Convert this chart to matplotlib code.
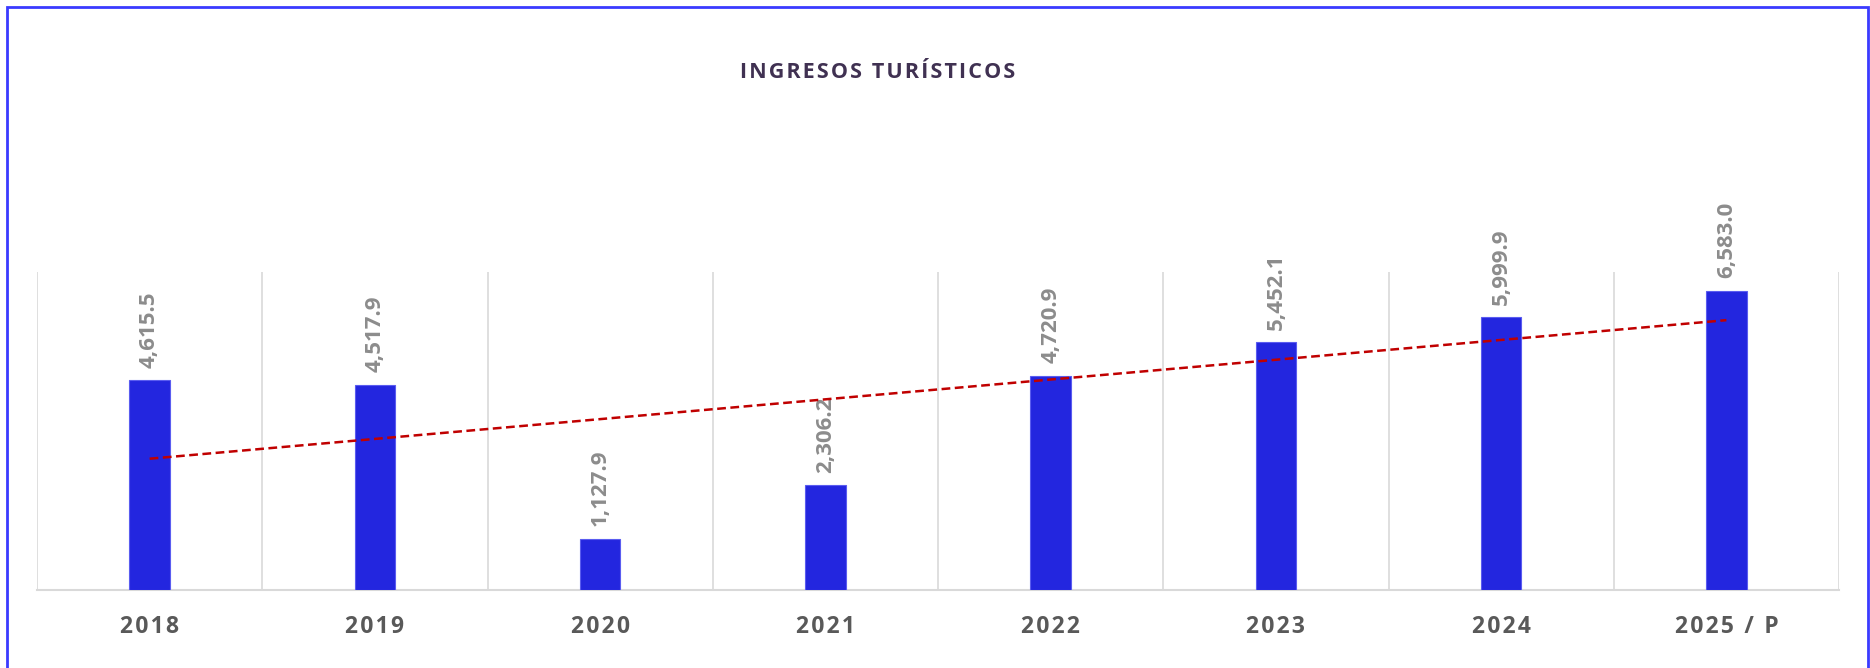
import matplotlib
matplotlib.use("Agg")
import matplotlib.pyplot as plt
from matplotlib.patches import Rectangle

# data
years = ["2018", "2019", "2020", "2021", "2022", "2023", "2024", "2025 / P"]
ingresos = [4615.5, 4517.9, 1127.9, 2306.2, 4720.9, 5452.1, 5999.9, 6583.0]
# linear trendline, start / end values
trend_vals = [2890, 5940]

plt.rcParams['font.family'] = ['Open Sans', 'DejaVu Sans']


def spaced(s):
    # excel-style letter spacing
    return "\u200a".join(s)


fig = plt.figure(figsize=(18.7, 6.68), dpi=100)
ax = fig.add_axes([37/1870, 1 - 590/668, (1839 - 37)/1870, (590 - 272)/668])

x = list(range(len(years)))
ax.bar(x, ingresos, width=0.18, color="#2326df", edgecolor="#5a5cf0", linewidth=0.8, zorder=3)

for xi, v in zip(x, ingresos):
    ax.annotate(f"{v:,.1f}", (xi, v), xytext=(0, 9), textcoords="offset points",
                rotation=90, ha="center", va="bottom", fontsize=16, color="#8c8c8c",
                fontweight="bold")

ax.plot([x[0], x[-1]], trend_vals, color="#c00000", linestyle=(0, (3.5, 1.8)),
        linewidth=1.8, zorder=4)

ax.set_xlim(-0.5, len(years) - 0.5)
ax.set_ylim(0, 7000)
for b in range(len(years) + 1):
    ax.axvline(b - 0.5, color="#d9d9d9", linewidth=1.2, zorder=1)

for s in ["top", "left", "right"]:
    ax.spines[s].set_visible(False)
ax.spines["bottom"].set_color("#d9d9d9")
ax.spines["bottom"].set_linewidth(1.5)
ax.set_yticks([])
ax.set_xticks(x)
ax.set_xticklabels([spaced(y) for y in years], fontsize=16.5, fontweight="bold", color="#595959")
ax.tick_params(axis="x", length=0, pad=18)

fig.text(878/1870, 1 - 73/668, spaced("INGRESOS TURÍSTICOS"), ha="center", va="center",
         fontsize=15.5, fontweight="bold", color="#403152")

# outer chart border (bottom edge falls outside the image)
fig.patches.append(Rectangle((7/1870, -0.1), 1 - 9/1870, 1.1 - 7/668,
                             transform=fig.transFigure, fill=False,
                             edgecolor="#3a3aff", linewidth=2))

fig.savefig("out.png", dpi=100)
